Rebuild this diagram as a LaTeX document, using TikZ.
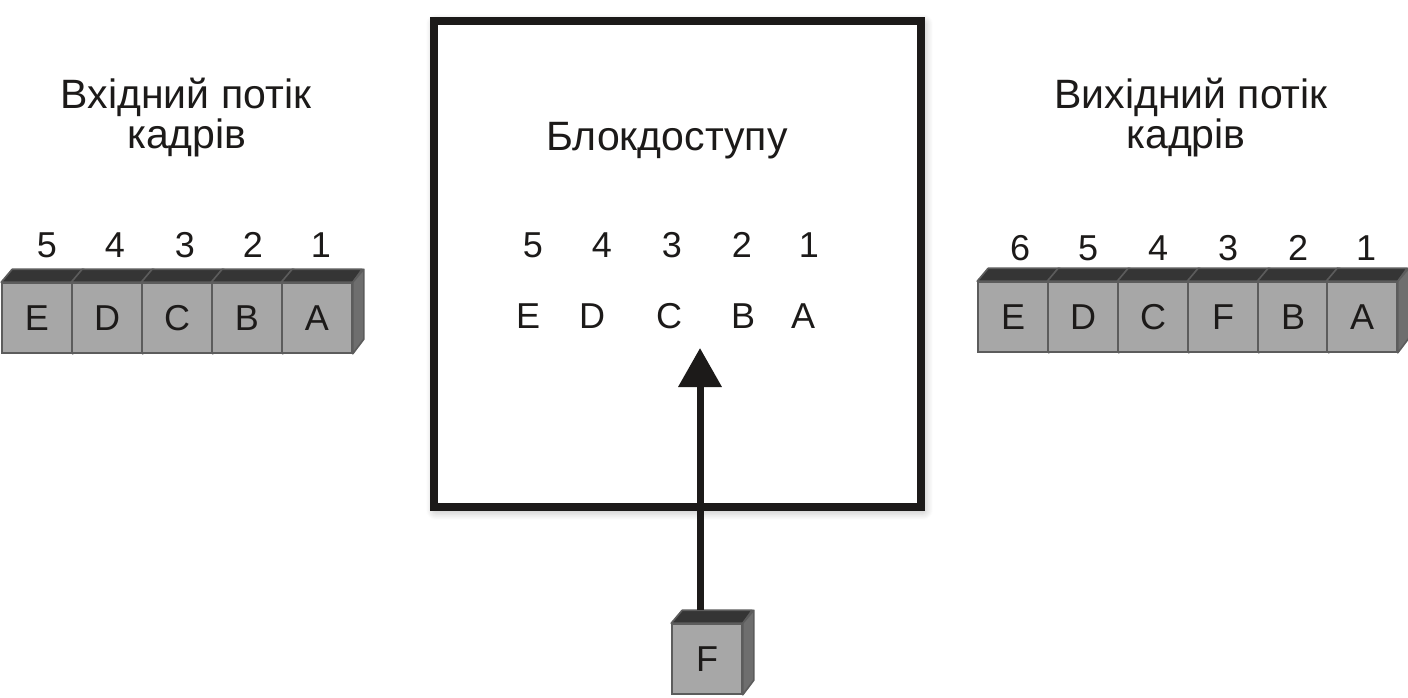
\documentclass[tikz,border=0pt]{standalone}
\usepackage{fontspec}
\setmainfont{Liberation Sans}
\usetikzlibrary{arrows.meta,calc,shadows.blur}
\definecolor{ink}{HTML}{1C1A19}
\definecolor{cubefr}{HTML}{A7A7A7}
\definecolor{cubetp}{HTML}{353535}
\definecolor{cubesd}{HTML}{6E6E6E}
\definecolor{cubeln}{HTML}{5C5C5C}
\tikzset{
  title/.style={font=\fontsize{41}{41}\selectfont, text=ink, anchor=base, inner sep=0pt},
  numlab/.style={font=\fontsize{36}{36}\selectfont, text=ink, anchor=center, inner sep=0pt},
  cubefront/.style={draw=cubeln, line width=1.6pt, fill=cubefr, minimum width=70pt, minimum height=70pt, inner sep=0pt, font=\fontsize{36}{36}\selectfont, text=ink},
  cubetop/.style={draw=cubeln, line width=1.6pt, fill=cubetp, line join=round},
  cubeside/.style={draw=cubeln, line width=1.6pt, fill=cubesd, line join=round},
  blockbox/.style={draw=ink, line width=8pt, fill=white, blur shadow={shadow xshift=2pt, shadow yshift=-3pt, shadow blur radius=10pt, shadow blur steps=12, shadow opacity=35}},
  feed/.style={draw=ink, line width=7pt, -{Triangle[length=39pt,width=42pt]}}
}
\newcommand{\mycube}[4]{%
  \node[cubefront] (#1) at (#2+35,#3+35) {#4};
  \draw[cubetop] (#1.north west) -- ++(11,-13) -- ++(70,0) -- (#1.north east) -- cycle;
  \draw[cubeside] (#1.north east) -- ++(11,-13) -- ++(0,70) -- (#1.south east) -- cycle;
}
\begin{document}
\begin{tikzpicture}[x=1pt,y=-1pt]
\useasboundingbox (0,0) rectangle (1408,697);
% access block
\node[blockbox, minimum width=487pt, minimum height=486pt, inner sep=0pt] (blk) at (677.5,264) {};
\node[title] (blktitle) at (667,150) {Блокдоступу};
% input stream titles
\node[title] (intitle1) at (186,108) {Вхідний потік};
\node[title] (intitle2) at (187,148) {кадрів};
\node[title] (outtitle1) at (1191,108) {Вихідний потік};
\node[title] (outtitle2) at (1186,148) {кадрів};
% input cubes
\mycube{inE}{2}{283}{E}
\mycube{inD}{72}{283}{D}
\mycube{inC}{142}{283}{C}
\mycube{inB}{212}{283}{B}
\mycube{inA}{282}{283}{A}
\node[numlab] (in5) at (47,245) {5};
\node[numlab] (in4) at (115,245) {4};
\node[numlab] (in3) at (185,245) {3};
\node[numlab] (in2) at (253,245) {2};
\node[numlab] (in1) at (321,245) {1};
% output cubes
\mycube{outE}{978}{282}{E}
\mycube{outD}{1048}{282}{D}
\mycube{outC}{1118}{282}{C}
\mycube{outF}{1188}{282}{F}
\mycube{outB}{1258}{282}{B}
\mycube{outA}{1327}{282}{A}
\node[numlab] (out6) at (1020,248) {6};
\node[numlab] (out5) at (1088,248) {5};
\node[numlab] (out4) at (1158,248) {4};
\node[numlab] (out3) at (1228,248) {3};
\node[numlab] (out2) at (1298,248) {2};
\node[numlab] (out1) at (1366,248) {1};
% inside block
\node[numlab] (b5) at (533,245) {5};
\node[numlab] (b4) at (602,245) {4};
\node[numlab] (b3) at (672,245) {3};
\node[numlab] (b2) at (742,245) {2};
\node[numlab] (b1) at (809,245) {1};
\node[numlab] (bE) at (528,316) {E};
\node[numlab] (bD) at (592,316) {D};
\node[numlab] (bC) at (669,316) {C};
\node[numlab] (bB) at (743,316) {B};
\node[numlab] (bA) at (803,316) {A};
% inserted frame F
\coordinate (tip) at (700,348);
\mycube{F}{672}{624}{F}
\coordinate (Fstart) at ($(F.north)+(-7,-13)$);
\draw[feed] (Fstart) -- (tip);
\end{tikzpicture}
\end{document}
